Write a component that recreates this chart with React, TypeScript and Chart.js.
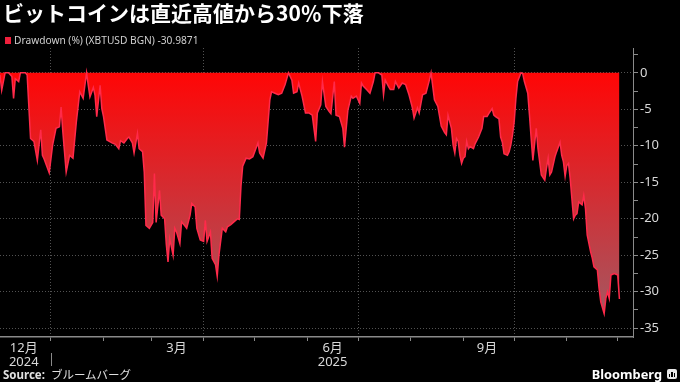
import React, { useEffect, useRef } from 'react';
import { Chart, registerables } from 'chart.js';

Chart.register(...registerables);

// Day offsets counted from 1 Dec 2024 (day 0)
const DAYS = [
  1, 2, 4, 6, 8, 9, 10, 12, 13, 16, 17, 19, 21, 23, 25, 26, 27, 30, 32, 34,
  36, 37, 38, 40, 42, 44, 46, 48, 50, 52, 53, 54, 56, 57, 58, 60, 61, 62, 64, 67,
  69, 71, 72, 74, 76, 77, 79, 80, 82, 83, 85, 86, 87, 89, 91, 92, 93, 95, 96, 98,
  99, 100, 101, 103, 104, 105, 107, 108, 110, 111, 113, 114, 116, 117, 119, 121, 122, 123, 125, 126,
  128, 129, 130, 132, 134, 135, 137, 139, 141, 142, 143, 144, 146, 148, 150, 153, 154, 156, 158, 160,
  161, 163, 165, 167, 169, 170, 171, 173, 174, 176, 177, 179, 181, 183, 185, 187, 188, 190, 191, 193,
  195, 196, 198, 199, 201, 203, 204, 206, 208, 209, 211, 213, 214, 215, 217, 219, 221, 222, 224, 226,
  227, 228, 230, 231, 233, 234, 236, 238, 240, 242, 244, 245, 247, 248, 250, 252, 254, 255, 257, 259,
  261, 263, 264, 265, 267, 268, 269, 270, 271, 272, 273, 274, 275, 276, 277, 278, 280, 281, 283, 285,
  286, 288, 289, 291, 292, 293, 295, 296, 297, 298, 300, 301, 302, 303, 304, 305, 306, 308, 309, 310,
  312, 313, 314, 315, 317, 318, 320, 322, 323, 324, 325, 326, 328, 329, 331, 332, 333, 334, 335, 336,
  337, 339, 340, 341, 342, 344, 345, 346, 347, 349, 350, 351, 353, 354, 355, 357, 358, 359, 360, 361,
  363, 365, 366,
];

// Drawdown (%) from the running high
const DRAWDOWN = [
  -0.3, -2.4, 0, 0, -0.5, -3.5, -0.8, -1.2, 0, 0, -0.3, -9.0, -9.4, -12.0, -7.8, -11.3, -11.8, -13.7, -9.9, -7.6,
  -7.4, -4.7, -8.0, -13.6, -11.3, -11.7, -6.7, -2.6, -3.5, 0, -1.7, -3.3, -2.0, -3.1, -6.0, -1.7, -4.9, -6.0, -9.2, -9.6,
  -9.8, -10.4, -9.3, -9.6, -9.0, -8.8, -9.6, -11.0, -8.3, -10.4, -10.8, -13.6, -20.9, -21.3, -20.5, -13.8, -20.5, -16.1, -19.5, -20.0,
  -23.5, -25.9, -22.7, -25.0, -21.3, -21.8, -23.4, -20.4, -21.0, -21.3, -19.5, -17.9, -18.4, -21.3, -22.9, -23.1, -20.2, -23.1, -21.8, -25.4,
  -26.3, -27.9, -25.0, -21.3, -21.8, -21.1, -20.8, -20.4, -20.0, -20.1, -15.5, -12.8, -11.7, -11.8, -11.5, -9.6, -11.0, -11.7, -9.6, -3.7,
  -2.6, -2.8, -3.0, -2.8, -1.6, -0.8, 0, -1.0, -2.8, -2.6, -1.4, -3.2, -5.5, -5.5, -5.8, -9.4, -5.5, -4.4, -1.2, -4.6,
  -5.3, -5.6, -1.2, -5.8, -6.0, -7.6, -10.2, -5.1, -3.2, -3.5, -3.2, -4.2, -1.4, -1.8, -2.3, -2.8, -1.2, 0, 0, -0.3,
  -3.0, -1.0, -1.9, -2.3, -2.3, -1.2, -2.1, -1.4, -1.6, -3.0, -4.8, -6.2, -4.8, -5.5, -3.0, -2.8, -1.0, 0, -3.7, -4.6,
  -7.3, -8.2, -8.5, -5.8, -7.6, -9.9, -11.0, -9.0, -9.4, -11.3, -12.4, -11.7, -11.5, -9.4, -10.4, -10.1, -10.4, -9.7, -8.8, -7.6,
  -6.0, -6.0, -5.6, -4.9, -5.8, -6.0, -6.3, -8.8, -9.5, -11.1, -11.3, -10.8, -9.9, -8.5, -6.7, -3.5, -1.2, 0, -0.1, -1.2,
  -2.8, -5.8, -9.0, -12.0, -7.6, -10.4, -14.0, -14.7, -13.1, -11.7, -14.0, -13.6, -11.5, -10.8, -9.5, -11.3, -12.2, -14.2, -12.7, -12.4,
  -14.5, -20.0, -19.5, -19.3, -17.7, -18.1, -16.8, -18.6, -22.2, -24.5, -25.4, -26.6, -27.0, -29.5, -31.4, -33.0, -30.9, -30.0, -30.9, -27.7,
  -27.5, -27.7, -30.9871,
];

const X_MIN = 1;
const X_MAX = 374;
const Y_MIN = -36.2;
const Y_MAX = 3.4;

const MONTH_STARTS = [31, 62, 90, 121, 151, 182, 212, 243, 274, 304, 335, 365];
const QUARTER_STARTS = [31, 121, 212, 304];
const LABEL_DAYS = [15, 105, 197, 288];
const LABEL_TEXT: (string | string[])[] = [['12月', '2024'], '3月', ['6月', '2025'], '9月'];
const YEAR_BOUNDARY = 31;

const Y_MAJOR = [-35, -30, -25, -20, -15, -10, -5, 0];
const Y_MINOR = [-32.5, -27.5, -22.5, -17.5, -12.5, -7.5, -2.5, 2.5];

const TITLE = 'ビットコインは直近高値から30％下落';
const LEGEND_LABEL = 'Drawdown (%) (XBTUSD BGN) -30.9871';

const GRID = 'rgba(150,150,150,0.55)';
const AXIS = '#8a8a8a';
const TEXT = '#d8d8d8';
const LINE = '#ff2a4a';
const FONT = "'Noto Sans', 'Noto Sans CJK JP', sans-serif";

const yearSeparator = {
  id: 'yearSeparator',
  afterDraw(chart: any) {
    const { ctx, scales, chartArea } = chart;
    const x = Math.round(scales.x.getPixelForValue(YEAR_BOUNDARY)) + 0.5;
    ctx.save();
    ctx.strokeStyle = AXIS;
    ctx.lineWidth = 1;
    ctx.beginPath();
    ctx.moveTo(x, chartArea.bottom + 16);
    ctx.lineTo(x, chartArea.bottom + 29);
    ctx.stroke();
    ctx.restore();
  },
};

export default function App() {
  const ref = useRef<HTMLCanvasElement | null>(null);

  useEffect(() => {
    document.body.style.margin = '0';
    document.body.style.background = '#000';
    const canvas = ref.current;
    if (!canvas) return;
    const chart = new Chart(canvas, {
      type: 'line',
      data: {
        datasets: [
          {
            data: DAYS.map((d, i) => ({ x: d, y: DRAWDOWN[i] })),
            borderColor: LINE,
            borderWidth: 1.5,
            pointRadius: 0,
            tension: 0,
            fill: 'origin',
            backgroundColor: (c: any) => {
              const { chart: ch } = c;
              const area = ch.chartArea;
              if (!area) return 'rgba(255,0,0,0.9)';
              const y0 = ch.scales.y.getPixelForValue(0);
              const y1 = ch.scales.y.getPixelForValue(-35);
              const g = ch.ctx.createLinearGradient(0, y0, 0, y1);
              g.addColorStop(0, 'rgb(255,6,6)');
              g.addColorStop(0.5, 'rgb(208,48,54)');
              g.addColorStop(1, 'rgb(160,92,102)');
              return g;
            },
          },
        ],
      },
      options: {
        animation: false,
        responsive: false,
        maintainAspectRatio: false,
        devicePixelRatio: 1,
        layout: { padding: { top: 48, left: 0, right: 0, bottom: 0 } },
        plugins: { legend: { display: false }, tooltip: { enabled: false } },
        scales: {
          x: {
            type: 'linear',
            min: X_MIN,
            max: X_MAX,
            afterBuildTicks: (s: any) => {
              s.ticks = [...MONTH_STARTS, ...LABEL_DAYS].sort((a, b) => a - b).map((v) => ({ value: v }));
            },
            afterFit: (s: any) => {
              s.height = 45;
            },
            ticks: {
              autoSkip: false,
              maxRotation: 0,
              minRotation: 0,
              padding: 0,
              color: TEXT,
              font: { family: FONT, size: 13, lineHeight: 1.1 },
              callback: (v: any) => {
                const i = LABEL_DAYS.indexOf(Number(v));
                return i >= 0 ? (LABEL_TEXT[i] as any) : '';
              },
            },
            grid: {
              color: (c: any) => (c.tick && QUARTER_STARTS.includes(c.tick.value) ? GRID : 'rgba(0,0,0,0)'),
              tickColor: (c: any) => (c.tick && MONTH_STARTS.includes(c.tick.value) ? AXIS : 'rgba(0,0,0,0)'),
              tickLength: 4,
              lineWidth: 1,
            },
            border: { display: true, color: AXIS, width: 1.5, dash: [1, 2] },
          },
          y: {
            type: 'linear',
            position: 'right',
            min: Y_MIN,
            max: Y_MAX,
            afterBuildTicks: (s: any) => {
              s.ticks = [...Y_MAJOR, ...Y_MINOR].sort((a, b) => a - b).map((v) => ({ value: v }));
            },
            afterFit: (s: any) => {
              s.width = 47;
            },
            ticks: {
              padding: 2,
              color: TEXT,
              font: { family: FONT, size: 13 },
              callback: (v: any) => (Y_MAJOR.includes(Number(v)) ? String(v) : ''),
            },
            grid: {
              color: (c: any) => (c.tick && Y_MAJOR.includes(c.tick.value) ? GRID : 'rgba(0,0,0,0)'),
              tickColor: AXIS,
              tickLength: 5,
              lineWidth: 1,
            },
            border: { display: true, color: AXIS, width: 1, dash: [1, 2] },
          },
        },
      },
      plugins: [yearSeparator],
    } as any);
    return () => chart.destroy();
  }, []);

  return (
    <div style={{ position: 'relative', width: 680, height: 382, background: '#000', overflow: 'hidden', fontFamily: FONT }}>
      <canvas ref={ref} width={680} height={382} style={{ position: 'absolute', left: 0, top: 0, width: 680, height: 382 }} />
      <div
        style={{
          position: 'absolute', left: 3, top: 0, color: '#fff', fontSize: 21, fontWeight: 700,
          lineHeight: '24px', fontFamily: "'Noto Sans CJK JP', sans-serif", whiteSpace: 'nowrap',
        }}
      >
        {TITLE}
      </div>
      <div style={{ position: 'absolute', left: 5, top: 33, display: 'flex', alignItems: 'center', height: 14 }}>
        <div style={{ width: 6, height: 7, background: '#f0203c', marginRight: 3 }} />
        <span style={{ color: '#cfcfcf', fontSize: 10.2, lineHeight: '14px', whiteSpace: 'nowrap' }}>{LEGEND_LABEL}</span>
      </div>
      <div style={{ position: 'absolute', left: 3, top: 366, color: '#e0e0e0', fontSize: 11.5, lineHeight: '16px', whiteSpace: 'nowrap' }}>
        <span style={{ fontWeight: 700 }}>Source:</span>
        <span style={{ marginLeft: 6, fontFamily: "'Noto Sans CJK JP', sans-serif" }}>ブルームバーグ</span>
      </div>
      <div style={{ position: 'absolute', right: 18, top: 365, color: '#fff', fontSize: 12.8, fontWeight: 700, lineHeight: '18px' }}>
        Bloomberg
      </div>
      <div style={{ position: 'absolute', left: 667, top: 369, width: 10, height: 10, background: '#e8e8e8', borderRadius: 2, display: 'flex', alignItems: 'flex-end', justifyContent: 'center', gap: 1, paddingBottom: 2, boxSizing: 'border-box' }}>
        <div style={{ width: 1.5, height: 3, background: '#000' }} />
        <div style={{ width: 1.5, height: 5, background: '#000' }} />
        <div style={{ width: 1.5, height: 4, background: '#000' }} />
      </div>
    </div>
  );
}
